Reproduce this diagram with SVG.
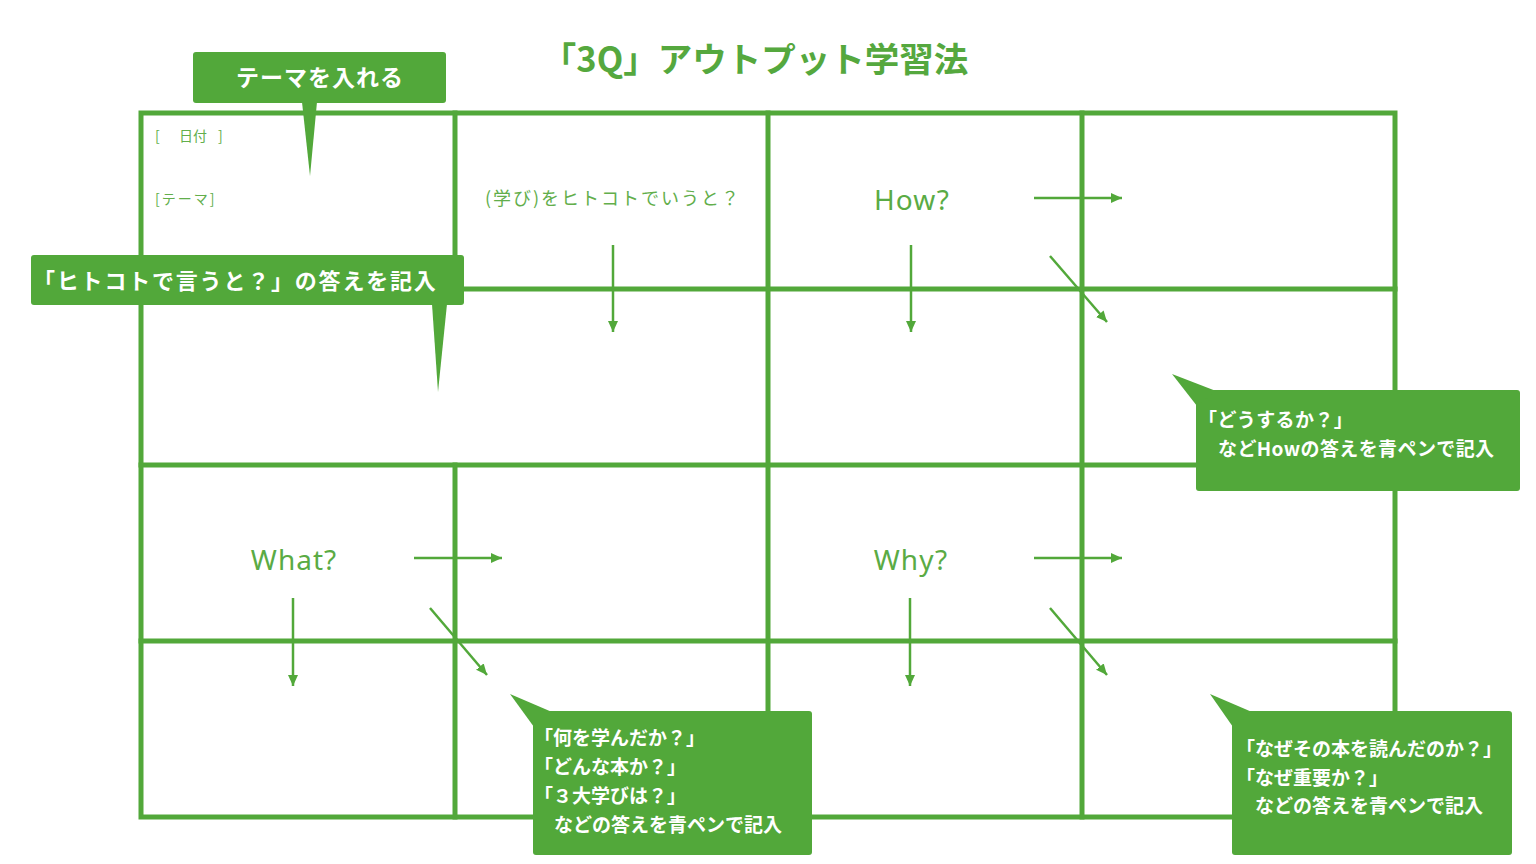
<svg xmlns="http://www.w3.org/2000/svg" width="1536" height="864" viewBox="0 0 1536 864">
<style>
.grid{stroke:#52a83a;stroke-width:5;fill:none;stroke-linecap:square}
.arr{stroke:#52a83a;stroke-width:2.5;fill:none}
.box{fill:#52a83a}
.wt{fill:#ffffff;font-family:"Noto Sans CJK JP","Noto Sans",sans-serif;font-weight:bold}
.ct{fill:#62ae4b;font-family:"Noto Sans CJK JP","Noto Sans",sans-serif}
.q{fill:#5aab44;font-family:"Noto Sans","Noto Sans CJK JP",sans-serif;font-size:28px;text-anchor:middle;letter-spacing:1px}
</style>
<defs>
<marker id="ah" markerUnits="userSpaceOnUse" markerWidth="12" markerHeight="11" refX="11" refY="5" orient="auto">
<path d="M0,0 L11,5 L0,10 z" fill="#52a83a"/>
</marker>
</defs>
<rect width="1536" height="864" fill="#ffffff"/>
<text id="title" x="755" y="72" text-anchor="middle" font-family="Noto Sans CJK JP, sans-serif" font-weight="bold" font-size="34.5" fill="#55a83e">「3Q」アウトプット学習法</text>
<g id="grid">
<rect class="grid" x="141" y="113" width="1254" height="704"/>
<line class="grid" x1="141" y1="289" x2="1395" y2="289"/>
<line class="grid" x1="141" y1="465" x2="1395" y2="465"/>
<line class="grid" x1="141" y1="641" x2="1395" y2="641"/>
<line class="grid" x1="455" y1="113" x2="455" y2="289"/>
<line class="grid" x1="455" y1="465" x2="455" y2="817"/>
<line class="grid" x1="768" y1="113" x2="768" y2="817"/>
<line class="grid" x1="1082" y1="113" x2="1082" y2="817"/>
</g>
<g id="cell-texts">
<text class="ct" y="141" font-size="14"><tspan x="155">[</tspan><tspan x="179">日付</tspan><tspan x="218">]</tspan></text>
<text class="ct" x="155" y="204" font-size="14" letter-spacing="2">[テーマ]</text>
<text class="ct" x="613" y="205" font-size="18" letter-spacing="2" text-anchor="middle">(学び)をヒトコトでいうと？</text>
</g>
<g id="how"><text class="q" x="912" y="210">How?</text></g>
<g id="what"><text class="q" x="294" y="570">What?</text></g>
<g id="why"><text class="q" x="911" y="570">Why?</text></g>
<g id="connectors">
<line class="arr" x1="613" y1="245" x2="613" y2="332" marker-end="url(#ah)"/>
<line class="arr" x1="911" y1="245" x2="911" y2="332" marker-end="url(#ah)"/>
<line class="arr" x1="1034" y1="198" x2="1122" y2="198" marker-end="url(#ah)"/>
<line class="arr" x1="1050" y1="256" x2="1107" y2="322" marker-end="url(#ah)"/>
<line class="arr" x1="293" y1="598" x2="293" y2="686" marker-end="url(#ah)"/>
<line class="arr" x1="414" y1="558" x2="502" y2="558" marker-end="url(#ah)"/>
<line class="arr" x1="430" y1="608" x2="487" y2="675" marker-end="url(#ah)"/>
<line class="arr" x1="910" y1="598" x2="910" y2="686" marker-end="url(#ah)"/>
<line class="arr" x1="1034" y1="558" x2="1122" y2="558" marker-end="url(#ah)"/>
<line class="arr" x1="1050" y1="608" x2="1107" y2="675" marker-end="url(#ah)"/>
</g>
<g id="callout-theme">
<rect class="box" x="193" y="52" width="253" height="51" rx="3"/>
<polygon class="box" points="302,102 317,102 310,176"/>
<text class="wt" x="320" y="86" font-size="23" letter-spacing="1" text-anchor="middle">テーマを入れる</text>
</g>
<g id="callout-hitokoto">
<rect class="box" x="31" y="255" width="433" height="50" rx="3"/>
<polygon class="box" points="432,304 447,304 438,392"/>
<text class="wt" x="33" y="289" font-size="22" letter-spacing="1.8">「ヒトコトで言うと？」の答えを記入</text>
</g>
<g id="callout-how">
<rect class="box" x="1196" y="390" width="324" height="101" rx="3"/>
<polygon class="box" points="1172,374 1216,391 1197,406"/>
<text class="wt" font-size="19" letter-spacing="0.4"><tspan x="1198" y="427">「どうするか？」</tspan><tspan x="1218" y="456">などHowの答えを青ペンで記入</tspan></text>
</g>
<g id="callout-what">
<rect class="box" x="533" y="711" width="279" height="144" rx="3"/>
<polygon class="box" points="510,694 552,712 534,727"/>
<text class="wt" font-size="19"><tspan x="534" y="745">「何を学んだか？」</tspan><tspan x="534" y="774">「どんな本か？」</tspan><tspan x="534" y="803">「３大学びは？」</tspan><tspan x="554" y="832">などの答えを青ペンで記入</tspan></text>
</g>
<g id="callout-why">
<rect class="box" x="1232" y="711" width="280" height="144" rx="3"/>
<polygon class="box" points="1210,694 1252,712 1233,727"/>
<text class="wt" font-size="19"><tspan x="1236" y="756">「なぜその本を読んだのか？」</tspan><tspan x="1236" y="785">「なぜ重要か？」</tspan><tspan x="1255" y="813">などの答えを青ペンで記入</tspan></text>
</g>
</svg>
